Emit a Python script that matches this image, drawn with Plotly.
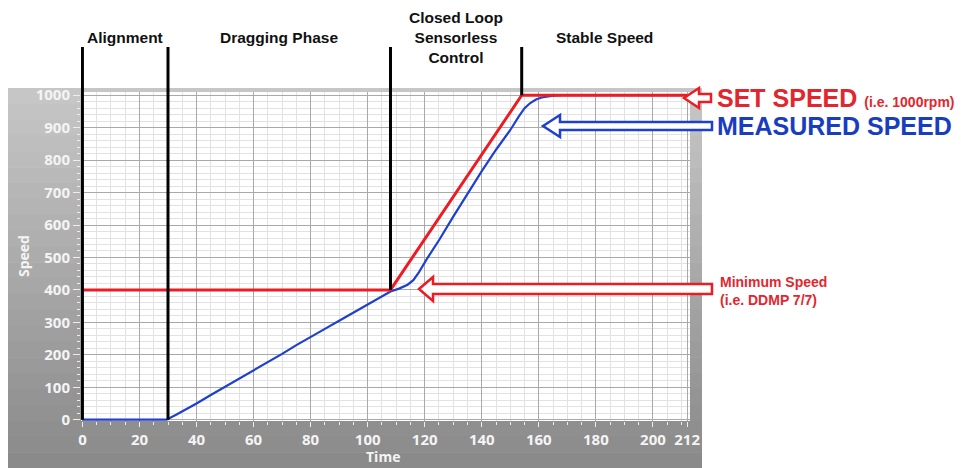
import plotly.graph_objects as go

# --- data -----------------------------------------------------------------
set_time = [0, 108, 154, 212]
set_speed = [400, 400, 1000, 1000]

meas_time = [0, 29.5, 33, 36, 40, 45, 50, 55, 60, 65, 70, 75, 80, 85, 90, 95,
             100, 104, 108, 111, 114, 116, 118, 121, 125, 130, 135, 140, 145,
             150, 153, 155, 157, 159, 161, 163, 165, 168, 212]
meas_speed = [0, 0, 16, 30, 50, 76, 101, 128, 152, 178, 203, 230, 254, 280, 305,
              330, 355, 376, 395, 404, 416, 430, 455, 499, 553, 626, 698, 766,
              832, 893, 935, 960, 976, 987, 993, 997, 999, 1000, 1000]

phase_x = [0, 30, 108, 154]
phase_bottom = [0, 0, 400, 1000]
phase_names = ["Alignment", "Dragging Phase", "Closed Loop<br>Sensorless<br>Control", "Stable Speed"]
phase_mid = [15, 69, 131, 183]

x_ticks = [0, 20, 40, 60, 80, 100, 120, 140, 160, 180, 200, 212]
y_ticks = [0, 100, 200, 300, 400, 500, 600, 700, 800, 900, 1000]

# --- geometry -------------------------------------------------------------
W, H = 961, 468
L, R, T, B = 81, 271, 92, 47
X_RANGE = [-0.5, 213]
Y_RANGE = [-4, 1010]
RED = "#ec1c24"
BLUE = "#1f3fcf"
TXT_RED = "#e3262e"
TXT_BLUE = "#1a3dbf"


def px(xp, yp):
    """pixel -> paper coords"""
    return (xp - L) / (W - L - R), (H - B - yp) / (H - T - B)


def ypaper(v):
    return (v - Y_RANGE[0]) / (Y_RANGE[1] - Y_RANGE[0])


def arrow_path(tip_x, y, head_len, head_h, shaft_h, tail_x):
    pts = [(tip_x, y), (tip_x + head_len, y - head_h), (tip_x + head_len, y - shaft_h),
           (tail_x, y - shaft_h), (tail_x, y + shaft_h), (tip_x + head_len, y + shaft_h),
           (tip_x + head_len, y + head_h)]
    pp = [px(a, b) for a, b in pts]
    return "M " + " L ".join(f"{a:.5f},{b:.5f}" for a, b in pp) + " Z"


shapes = []

# grey gradient panel behind the plot
n_bands = 24
top, bot = 88, 468
c0, c1 = 198, 138
for i in range(n_bands):
    y0p = top + (bot - top) * i / n_bands
    y1p = top + (bot - top) * (i + 1) / n_bands + 0.6
    g = round(c0 + (c1 - c0) * i / (n_bands - 1))
    x0, ya = px(8, y0p)
    x1, yb = px(702, y1p)
    shapes.append(dict(type="rect", xref="paper", yref="paper", x0=x0, x1=x1,
                       y0=yb, y1=ya, fillcolor=f"rgb({g},{g},{g})",
                       line=dict(width=0), layer="below"))
# white plotting area
shapes.append(dict(type="rect", xref="paper", yref="paper", x0=0, x1=1, y0=0, y1=1,
                   fillcolor="white", line=dict(width=0), layer="below"))

# phase separators
top_paper = px(0, 47)[1]
for xv, yb in zip(phase_x, phase_bottom):
    shapes.append(dict(type="line", xref="x", yref="paper", x0=xv, x1=xv,
                       y0=ypaper(yb), y1=top_paper,
                       line=dict(color="black", width=3), layer="above"))

# hollow arrows
shapes.append(dict(type="path", xref="paper", yref="paper",
                   path=arrow_path(684, 98, 15, 10, 4, 711),
                   fillcolor="white", line=dict(color=RED, width=2.5)))
shapes.append(dict(type="path", xref="paper", yref="paper",
                   path=arrow_path(543, 126, 17, 11, 4, 712),
                   fillcolor="white", line=dict(color=BLUE, width=2.5)))
shapes.append(dict(type="path", xref="paper", yref="paper",
                   path=arrow_path(419, 289, 14, 12, 5, 712),
                   fillcolor="white", line=dict(color=RED, width=2.5)))

fig = go.Figure()
fig.add_trace(go.Scatter(x=meas_time, y=meas_speed, mode="lines",
                         line=dict(color=BLUE, width=2.2), showlegend=False))
fig.add_trace(go.Scatter(x=set_time, y=set_speed, mode="lines",
                         line=dict(color=RED, width=3), showlegend=False))

annotations = []
for name, xm in zip(phase_names, phase_mid):
    annotations.append(dict(x=xm, xref="x", y=px(0, 37)[1], yref="paper",
                            text=f"<b>{name}</b>", showarrow=False,
                            xanchor="center", yanchor="middle",
                            font=dict(family="Liberation Sans, Arial", size=15.5, color="#111111")))

ax, ay = px(715, 98)
annotations.append(dict(x=ax, y=ay, xref="paper", yref="paper", showarrow=False,
                        xanchor="left", yanchor="middle",
                        text="<b>SET SPEED <span style='font-size:14px'>(i.e. 1000rpm)</span></b>",
                        font=dict(family="Liberation Sans, Arial", size=25, color=TXT_RED)))
ax, ay = px(715, 126)
annotations.append(dict(x=ax, y=ay, xref="paper", yref="paper", showarrow=False,
                        xanchor="left", yanchor="middle",
                        text="<b>MEASURED SPEED</b>",
                        font=dict(family="Liberation Sans, Arial", size=25, color=TXT_BLUE)))
ax, ay = px(718, 291)
annotations.append(dict(x=ax, y=ay, xref="paper", yref="paper", showarrow=False,
                        xanchor="left", yanchor="middle", align="left",
                        text="<b>Minimum Speed<br>(i.e. DDMP 7/7)</b>",
                        font=dict(family="Liberation Sans, Arial", size=14, color=TXT_RED)))
ax, ay = px(383, 457)
annotations.append(dict(x=ax, y=ay, xref="paper", yref="paper", showarrow=False,
                        xanchor="center", yanchor="middle",
                        text="<b>Time</b>",
                        font=dict(family="Open Sans", size=14, color="#f4f4f4")))
ax, ay = px(23, 256)
annotations.append(dict(x=ax, y=ay, xref="paper", yref="paper", showarrow=False,
                        xanchor="center", yanchor="middle",
                        text="<b>Speed</b>", textangle=-90,
                        font=dict(family="Open Sans", size=14, color="#f4f4f4")))

tickfont = dict(family="Open Sans", size=15, color="#f4f4f4", weight="bold")
fig.update_layout(
    width=W, height=H,
    margin=dict(l=L, r=R, t=T, b=B),
    paper_bgcolor="white", plot_bgcolor="white",
    shapes=shapes, annotations=annotations,
    showlegend=False,
    xaxis=dict(range=X_RANGE, tickmode="array", tickvals=x_ticks,
               ticks="outside", ticklen=5, tickcolor="#eeeeee", tickwidth=1,
               tickfont=tickfont, showgrid=True, gridcolor="#a9a9a9", gridwidth=1,
               zeroline=False, showline=False, automargin=False,
               minor=dict(tickmode="linear", tick0=0, dtick=5, ticks="outside",
                          ticklen=3, tickcolor="#eeeeee", showgrid=True,
                          gridcolor="#e2e2e2", gridwidth=1)),
    yaxis=dict(range=Y_RANGE, tickmode="array", tickvals=y_ticks,
               ticks="outside", ticklen=7, tickcolor="#eeeeee", tickwidth=1,
               tickfont=tickfont, showgrid=True, gridcolor="#a9a9a9", gridwidth=1,
               zeroline=False, showline=False, automargin=False,
               minor=dict(tickmode="linear", tick0=0, dtick=20, ticks="outside",
                          ticklen=3, tickcolor="#eeeeee", showgrid=True,
                          gridcolor="#e2e2e2", gridwidth=1)),
)

fig.write_html("out.html", config={"displayModeBar": False},
               post_script="document.body.style.margin='0';")
